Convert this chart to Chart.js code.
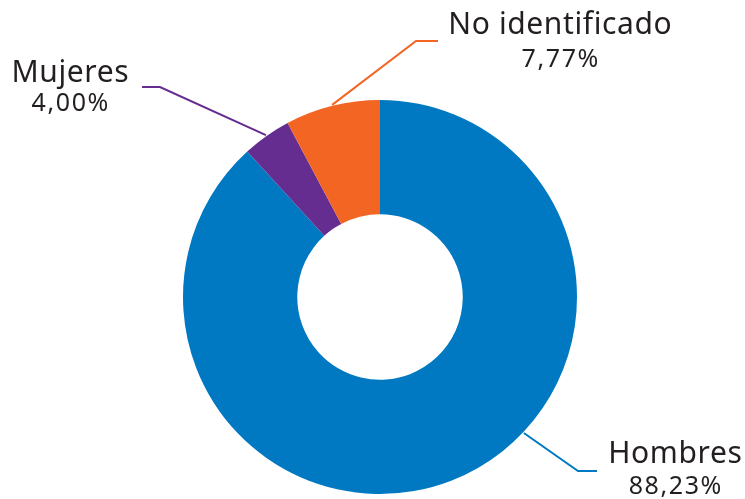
<!DOCTYPE html>
<html>
<head>
<meta charset="utf-8">
<script src="https://cdn.jsdelivr.net/npm/chart.js@4/dist/chart.umd.min.js"></script>
<style>
  html, body { margin: 0; padding: 0; background: #fff; }
  #wrap { width: 745px; height: 499px; }
</style>
</head>
<body>
<div id="wrap"><canvas id="donut" width="745" height="499"></canvas></div>
<script>
const categories = ["Hombres", "Mujeres", "No identificado"];
const shares = [88.23, 4.00, 7.77];
const colors = ["#0079c2", "#662d91", "#f26522"];

// where each label sits and where its leader line bends (layout only)
const labelLayout = [
  { anchor: 0.42, bend: [578, 471], end: [597, 471], tx: 675, ty: 463, ty2: 494 },
  { anchor: 0.5,  bend: [160, 87],  end: [142, 87],  tx: 70,  ty: 82,  ty2: 111 },
  { anchor: 0.5,  bend: [416, 41],  end: [438, 41],  tx: 560, ty: 34,  ty2: 67 }
];

const FONT = "'Noto Sans', sans-serif";

function fmtPct(v) {
  return v.toFixed(2).replace(".", ",") + "%";
}

function spacedText(ctx, txt, cx, y, spacing) {
  ctx.letterSpacing = spacing + "px";
  const w = ctx.measureText(txt).width - spacing;
  ctx.textAlign = "left";
  ctx.fillText(txt, cx - w / 2, y);
  ctx.letterSpacing = "0px";
}

const leaderLabels = {
  id: "leaderLabels",
  afterDatasetsDraw(chart) {
    const ctx = chart.ctx;
    const arcs = chart.getDatasetMeta(0).data;
    arcs.forEach((arc, i) => {
      const p = arc.getProps(["x", "y", "startAngle", "endAngle", "outerRadius"], true);
      const lay = labelLayout[i];
      const a = p.startAngle + (p.endAngle - p.startAngle) * lay.anchor;
      const sx = p.x + Math.cos(a) * (p.outerRadius + 1);
      const sy = p.y + Math.sin(a) * (p.outerRadius + 1);
      ctx.save();
      ctx.strokeStyle = colors[i];
      ctx.lineWidth = 2;
      ctx.beginPath();
      ctx.moveTo(sx, sy);
      ctx.lineTo(lay.bend[0], lay.bend[1]);
      ctx.lineTo(lay.end[0], lay.end[1]);
      ctx.stroke();
      ctx.fillStyle = "#231f20";
      ctx.textBaseline = "alphabetic";
      ctx.font = "30px " + FONT;
      spacedText(ctx, categories[i], lay.tx, lay.ty, 0.6);
      ctx.font = "25px " + FONT;
      spacedText(ctx, fmtPct(shares[i]), lay.tx, lay.ty2, 1.6);
      ctx.restore();
    });
  }
};

new Chart(document.getElementById("donut"), {
  type: "doughnut",
  data: {
    labels: categories,
    datasets: [{ data: shares, backgroundColor: colors, borderWidth: 0, hoverOffset: 0 }]
  },
  options: {
    responsive: false,
    animation: false,
    cutout: "42%",
    layout: { padding: { left: 183, right: 168, top: 100, bottom: 5 } },
    plugins: { legend: { display: false }, tooltip: { enabled: false } }
  },
  plugins: [leaderLabels]
});
</script>
</body>
</html>
